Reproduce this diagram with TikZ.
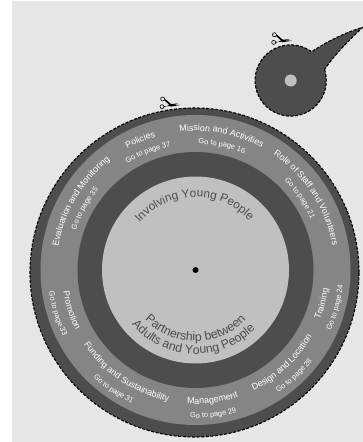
\documentclass[tikz,border=0pt]{standalone}
\usepackage{fontspec}
\setmainfont{Liberation Sans}
\usetikzlibrary{decorations.text}
\definecolor{bgc}{HTML}{E6E6E6}
\definecolor{darkc}{HTML}{4D4D4D}
\definecolor{midc}{HTML}{858585}
\definecolor{lightc}{HTML}{C0C0C0}
\newcommand\hd{\fontsize{8.9}{10}\selectfont\color{white}}
\newcommand\gt{\fontsize{7.4}{8}\selectfont\color{white}}
\newcommand\ttl{\fontsize{11.8}{14}\selectfont\color{darkc}}
\newcommand\ttb{\fontsize{12.3}{14}\selectfont\color{darkc}}
% mid angle, radius, format, text
\newcommand\toptext[4]{\pgfmathsetmacro\sa{#1+80}\pgfmathsetmacro\ea{#1-80}
  \path[decorate,decoration={text along path,text={|#3|#4},text align=center}] (\sa:#2) arc[start angle=\sa,end angle=\ea,radius=#2];}
\newcommand\bottext[4]{\pgfmathsetmacro\sa{#1-80}\pgfmathsetmacro\ea{#1+80}
  \path[decorate,decoration={text along path,text={|#3|#4},text align=center}] (\sa:#2) arc[start angle=\sa,end angle=\ea,radius=#2];}
\newcommand\scissors[2]{\begin{scope}[shift={(#1,#2)}]
  \draw[line width=0.6pt,fill=bgc] (-17.3,6) circle (2);
  \draw[line width=0.6pt,fill=bgc] (-18,-1.7) circle (2);
  \fill[black] (-15.6,4.8) -- (-9,-1.6) -- (0,0) -- (-8.5,0.6) -- (-14.6,5.8) -- cycle;
  \fill[black] (-16,-1.2) -- (-9,-1) -- (-2,1.6) -- (-9,0.9) -- (-16,-2.2) -- cycle;
\end{scope}}
\begin{document}
\begin{tikzpicture}[x=1pt,y=1pt,
  cutline/.style={draw=black,line width=1.1pt,dash pattern=on 3pt off 1.6pt}]
\useasboundingbox (0,0) rectangle (363,442);
\fill[white] (0,0) rectangle (363,442);
\fill[bgc] (12,0) rectangle (363,441);
% small disc with tail
\begin{scope}[shift={(290.7,361.5)}]
  \path[fill=darkc,cutline] (18:35.6) arc[start angle=18,end angle=-306.1,radius=35.6]
    .. controls (38,40) and (55,48) .. (72,53.2)
    .. controls (58,40) and (44,26) .. cycle;
  \fill[lightc] (0,0) circle (6);
\end{scope}
\scissors{291.7}{401.3}
% main wheel
\path[fill=darkc,cutline] (194.5,169.5) circle (164.5);
\begin{scope}[shift={(195.5,172)}]
  \fill[midc] (0,0) circle (155);
  \fill[darkc] (0,0) circle (118);
  \fill[lightc] (0,0) circle (93.5);
  \fill[black] (0,0) circle (3);
  \toptext{79}{139}{\hd}{Mission and Activities}
  \toptext{78}{126}{\gt}{Go to page 16}
  \toptext{113}{139}{\hd}{Policies}
  \toptext{112}{126}{\gt}{Go to page 37}
  \toptext{33}{139}{\hd}{Role of Staff and Volunteers}
  \toptext{34.5}{126}{\gt}{Go to page 21}
  \toptext{149}{139}{\hd}{Evaluation and Monitoring}
  \toptext{151}{126}{\gt}{Go to page 35}
  \bottext{277.5}{134}{\hd}{Management}
  \bottext{277}{148}{\gt}{Go to page 29}
  \bottext{313}{134}{\hd}{Design and Location}
  \bottext{313}{148}{\gt}{Go to page 28}
  \bottext{345}{134}{\hd}{Training}
  \bottext{345}{148}{\gt}{Go to page 24}
  \bottext{198}{134}{\hd}{Promotion}
  \bottext{197.5}{148}{\gt}{Go to page 33}
  \bottext{236}{134}{\hd}{Funding and Sustainability}
  \bottext{235.5}{148}{\gt}{Go to page 31}
  \toptext{91}{73}{\ttl}{Involving Young People}
  \bottext{270}{71}{\ttb}{Partnership between}
  \bottext{268}{84}{\ttb}{Adults and Young People}
\end{scope}
\scissors{180}{337}
\end{tikzpicture}
\end{document}
